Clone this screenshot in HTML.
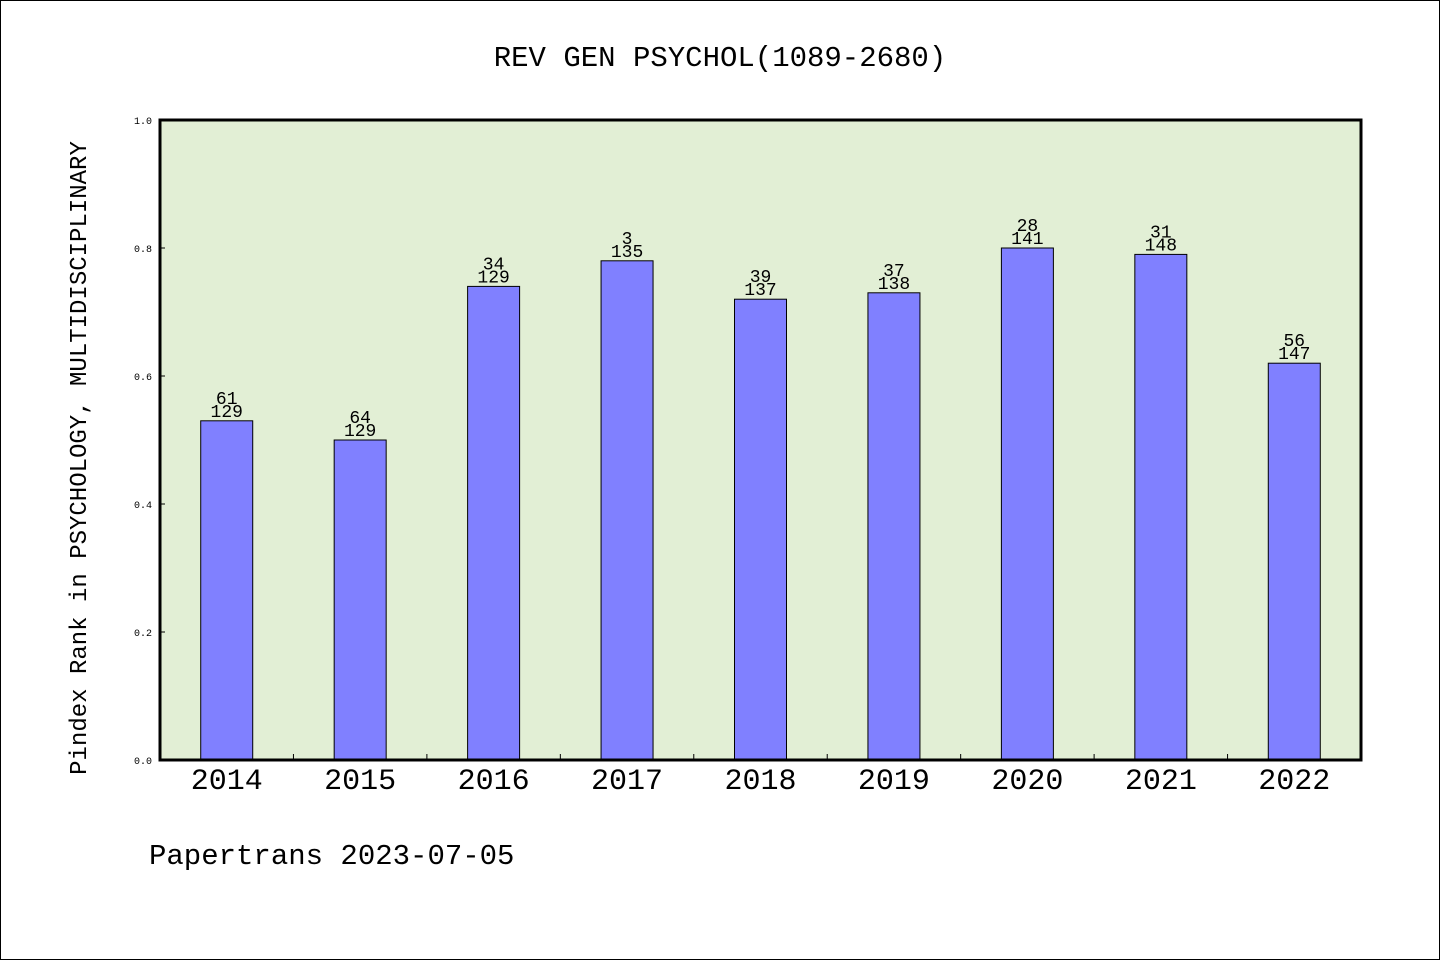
<!DOCTYPE html>
<html><head><meta charset="utf-8"><style>
html,body{margin:0;padding:0;background:#fff}
svg{display:block}
text{font-family:"Liberation Mono","WenQuanYi Zen Hei",monospace}
</style></head><body>
<svg id="chart" width="1440" height="960" xmlns="http://www.w3.org/2000/svg">
<rect x="0.5" y="0.5" width="1439" height="959" fill="#fff" stroke="#000"/>
<text x="720" y="66" font-size="29" text-anchor="middle">REV GEN PSYCHOL(1089-2680)</text>
<rect x="160" y="120" width="1201" height="640" fill="#e2efd5"/>
<g id="bars"></g>
<g id="axes"></g>
<text transform="translate(86,458) rotate(-90)" font-size="24" text-anchor="middle">Pindex Rank in PSYCHOLOGY, MULTIDISCIPLINARY</text>
<text x="149" y="864" font-size="29">Papertrans 2023-07-05</text>
</svg>
<script>
const years=["2014","2015","2016","2017","2018","2019","2020","2021","2022"];
const values=[0.53,0.50,0.74,0.78,0.72,0.73,0.80,0.79,0.62];
const ranks=["61","64","34","3","39","37","28","31","56"];
const totals=["129","129","129","135","137","138","141","148","147"];
const yTicks=[0,0.2,0.4,0.6,0.8,1.0];
const NS="http://www.w3.org/2000/svg";
const X0=160,X1=1361,Y0=760,Y1=120;
const gw=(X1-X0)/years.length;
const xC=i=>X0+gw*(i+0.5);
const yS=v=>Y0-(Y0-Y1)*v;
function mk(tag,attrs,parent){const e=document.createElementNS(NS,tag);for(const k in attrs)e.setAttribute(k,attrs[k]);parent.appendChild(e);return e;}
const bars=document.getElementById('bars'),axes=document.getElementById('axes');
years.forEach((y,i)=>{
  const r=mk('rect',{x:xC(i)-26,y:yS(values[i]),width:52,height:Y0-yS(values[i]),fill:'#8080ff',stroke:'#000','stroke-width':1},bars);
  
  
  const t1=mk('text',{x:xC(i),y:yS(values[i])-17,'font-size':18,'text-anchor':'middle'},bars);
  t1.textContent=ranks[i];
  
  
  const t2=mk('text',{x:xC(i),y:yS(values[i])-4,'font-size':18,'text-anchor':'middle'},bars);
  t2.textContent=totals[i];
  
  
  const xl=mk('text',{x:xC(i),y:789,'font-size':30,'text-anchor':'middle'},axes);
  xl.textContent=y;
  
  
  if(i>0){const tk=mk('line',{x1:X0+gw*i,x2:X0+gw*i,y1:Y0,y2:Y0-6,stroke:'#000','stroke-width':1},axes);
  
  }
});
yTicks.forEach(v=>{
  const tk=mk('line',{x1:X0,x2:X0+5,y1:yS(v),y2:yS(v),stroke:'#000','stroke-width':1},axes);
  
  
  const t=mk('text',{x:152,y:yS(v)+4,'font-size':10,'text-anchor':'end'},axes);
  t.textContent=v.toFixed(1);
  
  
});
const ax=mk('rect',{x:X0,y:Y1,width:X1-X0,height:Y0-Y1,fill:'none',stroke:'#000','stroke-width':3},axes);


</script>
</body></html>
